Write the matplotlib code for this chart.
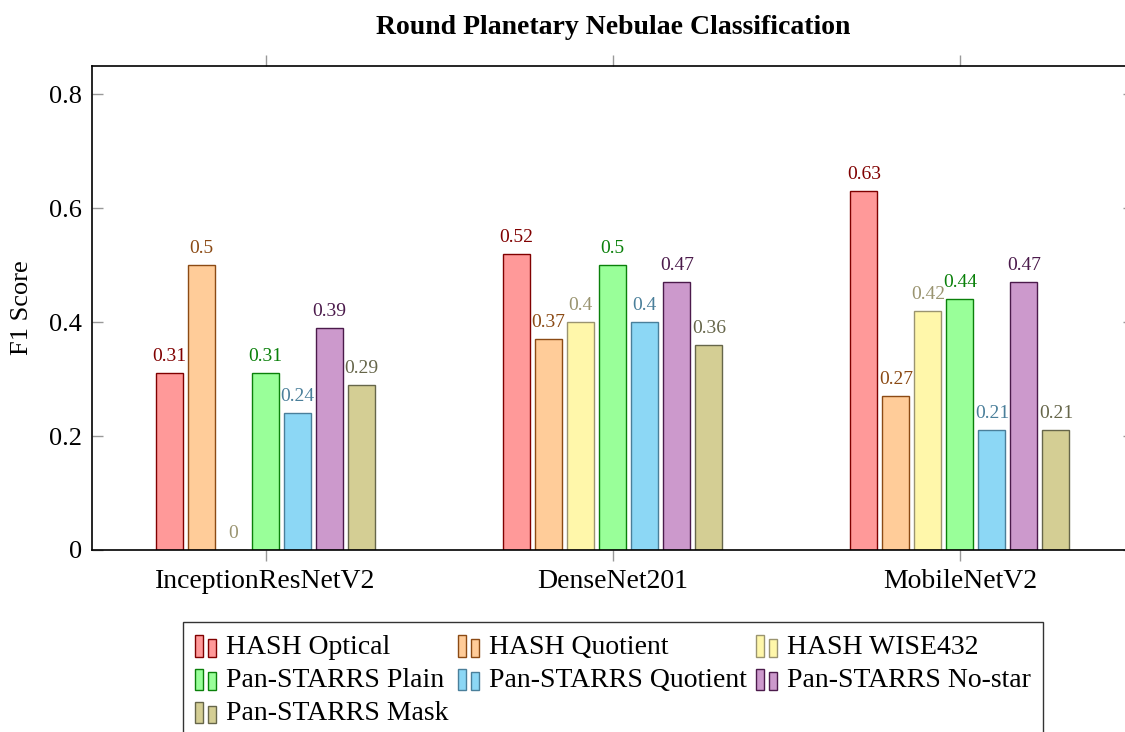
import matplotlib
matplotlib.use('Agg')
import matplotlib.pyplot as plt
import numpy as np
from matplotlib.legend_handler import HandlerBase
from matplotlib.patches import Rectangle

plt.rcParams['font.family'] = ['Liberation Serif', 'DejaVu Serif']

# data
models = ['InceptionResNetV2', 'DenseNet201', 'MobileNetV2']
series = ['HASH Optical', 'HASH Quotient', 'HASH WISE432', 'Pan-STARRS Plain',
          'Pan-STARRS Quotient', 'Pan-STARRS No-star', 'Pan-STARRS Mask']
hash_optical = [0.31, 0.52, 0.63]
hash_quotient = [0.5, 0.37, 0.27]
hash_wise432 = [0, 0.4, 0.42]
ps_plain = [0.31, 0.5, 0.44]
ps_quotient = [0.24, 0.4, 0.21]
ps_nostar = [0.39, 0.47, 0.47]
ps_mask = [0.29, 0.36, 0.21]
values = [hash_optical, hash_quotient, hash_wise432, ps_plain, ps_quotient, ps_nostar, ps_mask]

face_colors = ['#ff9999', '#ffcc99', '#fff7aa', '#99ff99', '#8cd7f5', '#cc99cc', '#d4ce94']
edge_colors = ['#800000', '#8b4a14', '#9a9470', '#0a800a', '#4a7f9a', '#4b1a4b', '#66664a']


class TwoBars(HandlerBase):
    # pgfplots style ybar legend icon: two little bars
    def create_artists(self, legend, orig_handle, xdescent, ydescent,
                       width, height, fontsize, trans):
        fc = orig_handle.get_facecolor()
        ec = orig_handle.get_edgecolor()
        w = width * 0.38
        r1 = Rectangle((-xdescent, -ydescent - 2), w, height * 1.1, fc=fc, ec=ec,
                       lw=1, transform=trans)
        r2 = Rectangle((-xdescent + width * 0.62, -ydescent - 2), w, height * 0.9, fc=fc,
                       ec=ec, lw=1, transform=trans)
        return [r1, r2]


fig = plt.figure(figsize=(11.25, 7.32), dpi=100)
ax = fig.add_axes([92 / 1125, 1 - 550 / 732, (1133.5 - 92) / 1125, (550 - 66) / 732])

x = np.arange(len(models))
step = 0.0922
width = 0.078
handles = []
for i, (vals, fc, ec) in enumerate(zip(values, face_colors, edge_colors)):
    pos = x + (i - 3) * step
    bars = ax.bar(pos, vals, width, color=fc, edgecolor=ec, linewidth=1, label=series[i])
    handles.append(bars[0])
    for xp, v in zip(pos, vals):
        ax.annotate(f'{v:g}', (xp, v), xytext=(0, 6), textcoords='offset points',
                    ha='center', va='bottom', fontsize=14, color=ec)

ax.set_xlim(-0.5, 2.5)
ax.set_ylim(0, 0.85)
ax.set_xticks(x)
ax.set_xticklabels(models, fontsize=20)
ax.set_yticks([0, 0.2, 0.4, 0.6, 0.8])
ax.set_yticklabels(['0', '0.2', '0.4', '0.6', '0.8'], fontsize=19)
ax.tick_params(axis='x', direction='out', length=8, width=1, color='#999999',
               top=True, pad=6)
ax.tick_params(axis='y', direction='in', length=8, width=1, color='#999999',
               right=True, pad=7)
for s in ax.spines.values():
    s.set_linewidth(1.2)
ax.set_ylabel('F1 Score', fontsize=19, labelpad=12)
ax.set_title('Round Planetary Nebulae Classification', fontsize=20, fontweight='bold',
             pad=23)

# legend fills column by column, so reorder to get row-wise order
order = [0, 3, 6, 1, 4, 2, 5]
leg = fig.legend([handles[k] for k in order], [series[k] for k in order],
                 loc='upper center', bbox_to_anchor=(613 / 1125, 1 - 622 / 732),
                 borderaxespad=0,
                 ncol=3, fontsize=20, frameon=True, fancybox=False, edgecolor='black',
                 handler_map={matplotlib.patches.Rectangle: TwoBars()},
                 handlelength=0.75, handletextpad=0.35, columnspacing=0.35,
                 labelspacing=0.28, borderpad=0.45)
leg.get_frame().set_linewidth(1)

fig.savefig('out.png', dpi=100)
